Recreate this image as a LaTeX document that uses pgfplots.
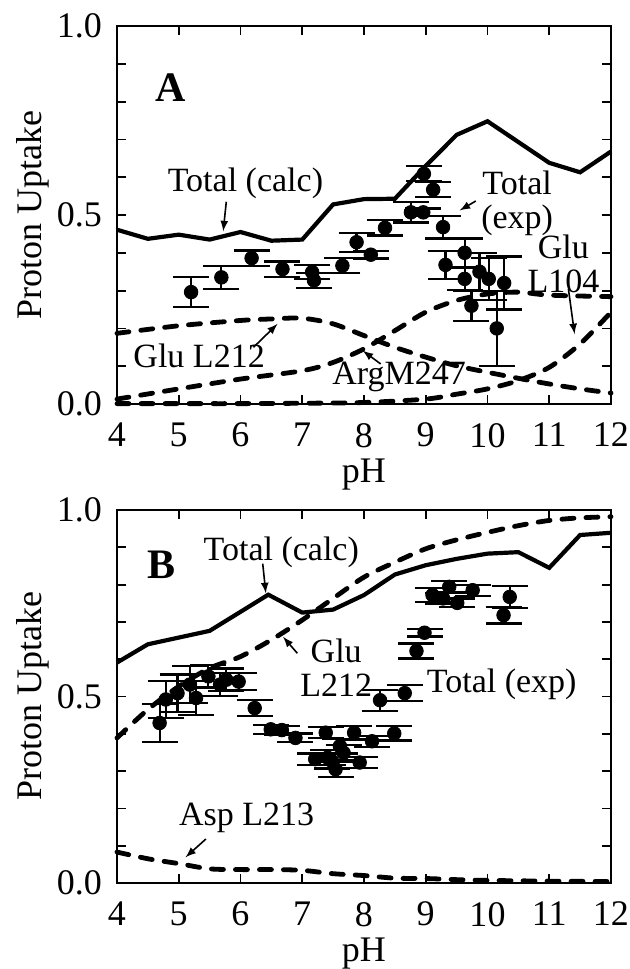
\documentclass[border=0pt]{standalone}
\usepackage{fontspec}
\setmainfont{Liberation Serif}
\usepackage{pgfplots}
\pgfplotsset{compat=1.18}

\pgfplotsset{
  panel/.style={
    scale only axis, width=247pt, xmin=4, xmax=12, ymin=0, ymax=1,
    xtick={4,...,12}, ytick={0,0.1,...,1.0},
    yticklabels={0.0,,,,,0.5,,,,,1.0},
    tick align=inside, major tick length=4.5pt,
    every tick/.style={black, line width=0.9pt},
    axis line style={line width=1.3pt},
    /pgf/number format/assume math mode=true,
    ticklabel style={font=\fontsize{18}{20}\selectfont},
    xticklabel style={yshift=-6pt},
    yticklabel style={xshift=-4pt},
    xlabel={pH}, ylabel={Proton Uptake},
    xlabel style={font=\fontsize{18}{20}\selectfont, yshift=1pt},
    every axis y label/.style={at={(ticklabel cs:0.5)}, rotate=90, anchor=south, yshift=-3pt,
      font=\fontsize{18}{20}\selectfont},
    clip=false,
  },
  calc/.style={black, line width=2.1pt, no marks},
  comp/.style={black, line width=2.4pt, no marks, smooth, line cap=round, dash pattern=on 6pt off 6pt},
  expt/.style={black, only marks, mark=*, mark size=3.4pt,
    error bars/.cd, y dir=both, y explicit, error mark=|,
    error bar style={line width=1.1pt},
    error mark options={line width=1.1pt, mark size=9pt}},
}
\tikzset{
  lbl/.style={font=\fontsize{17}{17}\selectfont, align=center, inner sep=0pt},
  arr/.style={-latex, line width=0.8pt},
}

\begin{document}
\begin{tikzpicture}
\useasboundingbox (0,0) rectangle (315pt,-484.5pt);

% ---------- panel A ----------
\begin{axis}[panel, height=189pt, at={(58.5pt,-13pt)}, anchor=north west]
\addplot[calc] coordinates {(4,0.461) (4.5,0.437) (5,0.448) (5.5,0.435) (6,0.455) (6.5,0.432) (7,0.435)
  (7.5,0.528) (8,0.542) (8.5,0.543) (9,0.63) (9.5,0.712) (10,0.748) (10.5,0.693) (11,0.638) (11.5,0.613) (12,0.668)};
% Glu L212
\addplot[comp] coordinates {(4,0.187) (5,0.207) (6,0.221) (6.5,0.225) (7,0.227) (7.5,0.212) (8,0.181)
  (8.5,0.15) (9,0.124) (9.5,0.101) (10,0.084) (10.5,0.068) (11,0.053) (11.5,0.04) (12,0.029)};
% ArgM247
\addplot[comp] coordinates {(4,0.013) (5,0.04) (6,0.066) (7,0.088) (7.5,0.11) (8,0.146) (8.5,0.194)
  (9,0.243) (9.5,0.274) (10,0.291) (10.5,0.296) (11,0.288) (12,0.284)};
% Glu L104
\addplot[comp] coordinates {(4,0.001) (5,0.001) (6,0.001) (7,0.002) (8,0.004) (9,0.013) (9.5,0.026)
  (10,0.04) (10.5,0.062) (11,0.097) (11.5,0.159) (12,0.243)};
\addplot[expt] table[x=x, y=y, y error=e] {
x y e
5.20 0.296 0.039
5.69 0.335 0.030
6.18 0.386 0.020
6.68 0.357 0.020
7.16 0.349 0.018
7.19 0.327 0.020
7.65 0.366 0.020
7.88 0.428 0.025
8.11 0.395 0.010
8.34 0.466 0.020
8.76 0.507 0.027
8.96 0.507 0.010
8.97 0.609 0.020
9.12 0.567 0.020
9.28 0.468 0.030
9.32 0.368 0.037
9.63 0.400 0.038
9.63 0.331 0.030
9.87 0.350 0.050
10.02 0.331 0.056
9.74 0.260 0.040
10.27 0.320 0.070
10.15 0.200 0.100
};
\node[font=\fontsize{21}{22}\selectfont\bfseries, inner sep=0pt] at (axis cs:4.87,0.838) {A};
\node[lbl] at (axis cs:6.08,0.585) {Total (calc)};
\draw[arr] (axis cs:5.77,0.535) -- (axis cs:5.72,0.457);
\node[lbl] at (axis cs:10.48,0.532) {Total\\(exp)};
\draw[arr] (axis cs:9.81,0.537) -- (axis cs:9.55,0.512);
\node[lbl] at (axis cs:11.23,0.37) {Glu\\L104};
\draw[arr] (axis cs:11.31,0.305) -- (axis cs:11.41,0.185);
\node[lbl] at (axis cs:5.33,0.128) {Glu L212};
\draw[arr] (axis cs:6.21,0.15) -- (axis cs:6.6,0.212);
\node[lbl] at (axis cs:8.57,0.071) {ArgM247};
\draw[arr] (axis cs:8.27,0.106) -- (axis cs:7.98,0.141);
\end{axis}

% ---------- panel B ----------
\begin{axis}[panel, height=186.5pt, at={(58.5pt,-255pt)}, anchor=north west]
\addplot[calc] coordinates {(4,0.591) (4.5,0.64) (5.5,0.676) (6,0.727) (6.45,0.773) (7,0.725) (7.5,0.733)
  (8,0.772) (8.5,0.827) (9,0.852) (9.5,0.869) (10,0.883) (10.5,0.887) (11,0.845) (11.5,0.933) (12,0.939)};
% Glu L212
\addplot[comp] coordinates {(4,0.389) (4.5,0.465) (5,0.527) (5.5,0.576) (6,0.607) (6.5,0.652) (7,0.705)
  (7.5,0.763) (8,0.82) (8.5,0.86) (9,0.896) (9.5,0.92) (10,0.94) (10.5,0.958) (11,0.972) (11.5,0.979) (12,0.982)};
% Asp L213
\addplot[comp] coordinates {(4,0.083) (4.5,0.065) (5,0.052) (5.5,0.038) (6,0.036) (6.5,0.036) (7,0.034)
  (7.5,0.025) (8,0.02) (8.5,0.013) (9,0.012) (9.5,0.009) (10,0.007) (11,0.005) (12,0.004)};
\addplot[expt] table[x=x, y=y, y error=e] {
x y e
4.69 0.429 0.050
4.79 0.492 0.050
4.98 0.509 0.050
5.18 0.532 0.050
5.28 0.496 0.045
5.48 0.554 0.030
5.67 0.532 0.030
5.77 0.545 0.030
5.97 0.540 0.022
6.23 0.469 0.022
6.49 0.412 0.012
6.67 0.410 0.012
6.89 0.389 0.012
7.38 0.403 0.015
7.84 0.403 0.018
8.49 0.401 0.019
8.13 0.380 0.015
7.61 0.367 0.020
7.67 0.349 0.020
7.21 0.332 0.015
7.48 0.327 0.020
7.93 0.323 0.015
7.54 0.305 0.020
7.41 0.336 0.020
8.26 0.490 0.028
8.66 0.509 0.021
8.85 0.622 0.020
8.98 0.671 0.010
9.11 0.772 0.019
9.28 0.763 0.015
9.38 0.794 0.015
9.51 0.751 0.012
9.76 0.785 0.015
10.36 0.767 0.030
10.26 0.718 0.022
};
\node[font=\fontsize{21}{22}\selectfont\bfseries, inner sep=0pt] at (axis cs:4.72,0.852) {B};
\node[lbl] at (axis cs:6.66,0.887) {Total (calc)};
\draw[arr] (axis cs:6.36,0.856) -- (axis cs:6.41,0.777);
\node[lbl] at (axis cs:7.55,0.578) {Glu\\L212};
\draw[arr] (axis cs:6.92,0.616) -- (axis cs:6.69,0.66);
\node[lbl] at (axis cs:10.23,0.532) {Total (exp)};
\node[lbl] at (axis cs:6.1,0.176) {Asp L213};
\draw[arr] (axis cs:5.44,0.118) -- (axis cs:5.11,0.069);
\end{axis}
\end{tikzpicture}
\end{document}
